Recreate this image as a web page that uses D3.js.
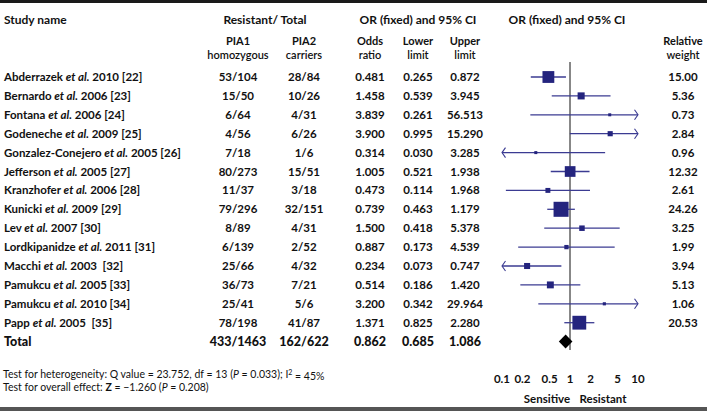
<!DOCTYPE html>
<html><head><meta charset="utf-8">
<script src="https://cdn.jsdelivr.net/npm/d3@7/dist/d3.min.js"></script>
<style>
body{margin:0;background:#fff;}
svg{display:block;font-family:Lato,"Open Sans",sans-serif;}
text{white-space:pre;}
</style></head>
<body><svg id="c" width="707" height="411"></svg>
<script>
const studies = ["Abderrazek et al. 2010 [22]","Bernardo et al. 2006 [23]","Fontana et al. 2006 [24]","Godeneche et al. 2009 [25]","Gonzalez-Conejero et al. 2005 [26]","Jefferson et al. 2005 [27]","Kranzhofer et al. 2006 [28]","Kunicki et al. 2009 [29]","Lev et al. 2007 [30]","Lordkipanidze et al. 2011 [31]","Macchi et al. 2003  [32]","Pamukcu et al. 2005 [33]","Pamukcu et al. 2010 [34]","Papp et al. 2005  [35]"];
const pia1 = ["53/104","15/50","6/64","4/56","7/18","80/273","11/37","79/296","8/89","6/139","25/66","36/73","25/41","78/198"];
const pia2 = ["28/84","10/26","4/31","6/26","1/6","15/51","3/18","32/151","4/31","2/52","4/32","7/21","5/6","41/87"];
const oddsRatio = [0.481,1.458,3.839,3.900,0.314,1.005,0.473,0.739,1.500,0.887,0.234,0.514,3.200,1.371];
const lowerLimit = [0.265,0.539,0.261,0.995,0.030,0.521,0.114,0.463,0.418,0.173,0.073,0.186,0.342,0.825];
const upperLimit = [0.872,3.945,56.513,15.290,3.285,1.938,1.968,1.179,5.378,4.539,0.747,1.420,29.964,2.280];
const relWeight = [15.00,5.36,0.73,2.84,0.96,12.32,2.61,24.26,3.25,1.99,3.94,5.13,1.06,20.53];
const total = {name:"Total", pia1:"433/1463", pia2:"162/622", or:0.862, lo:0.685, hi:1.086};
const axisTicks = [0.1,0.2,0.5,1,2,5,10];
const tickLabels = ["0.1","0.2","0.5","1","2","5","10"];

const svg = d3.select("#c");
const x = d3.scaleLog().domain([0.1,10]).range([502,638]);
const y = d3.scaleLinear().domain([0,14]).range([77,341.6]);
const f3 = d3.format(".3f"), f2 = d3.format(".2f");
const ink = "#111";
const navy = "#24247e";
const lineCol = "#3b3b92";

// frame lines
svg.append("rect").attr("x",0).attr("y",0).attr("width",707).attr("height",3).attr("fill","#1a1a1a");
svg.append("rect").attr("x",0).attr("y",407).attr("width",707).attr("height",4).attr("fill","#555");

const cols = {pia1:238, pia2:304, or:370, lo:418, hi:465, w:683};

function txt(xp, yp, s, opts={}){
  return svg.append("text").attr("x",xp).attr("y",yp).attr("dy","0.35em")
    .attr("text-anchor",opts.anchor||"middle")
    .attr("font-size",opts.size||11.5)
    .attr("font-weight",opts.weight||"bold")
    .attr("fill",ink).text(s);
}
// headers
txt(4,20,"Study name",{anchor:"start",size:12});
txt(265,20,"Resistant/ Total",{size:12});
txt(418,20,"OR (fixed) and 95% CI",{size:12});
txt(567,20,"OR (fixed) and 95% CI",{size:12});
const h1 = 41.5, h2 = 55;
txt(cols.pia1,h1,"PIA1",{size:11}); txt(cols.pia1,h2,"homozygous",{weight:"600",size:11});
txt(cols.pia2,h1,"PIA2",{size:11}); txt(cols.pia2,h2,"carriers",{weight:"600",size:11});
txt(cols.or,h1,"Odds",{size:11}); txt(cols.or,h2,"ratio",{weight:"600",size:11});
txt(cols.lo,h1,"Lower",{size:11}); txt(cols.lo,h2,"limit",{weight:"600",size:11});
txt(cols.hi,h1,"Upper",{size:11}); txt(cols.hi,h2,"limit",{weight:"600",size:11});
txt(cols.w,h1,"Relative",{size:11}); txt(cols.w,h2,"weight",{weight:"600",size:11});

// study rows
studies.forEach((s,i)=>{
  const t = svg.append("text").attr("x",4).attr("y",y(i)).attr("dy","0.35em")
    .attr("font-size",11.5).attr("font-weight","bold").attr("fill",ink);
  const parts = s.split("et al.");
  t.append("tspan").text(parts[0]);
  t.append("tspan").attr("font-style","italic").text("et al.");
  t.append("tspan").text(parts[1]);
  txt(cols.pia1,y(i),pia1[i]);
  txt(cols.pia2,y(i),pia2[i]);
  txt(cols.or,y(i),f3(oddsRatio[i]));
  txt(cols.lo,y(i),f3(lowerLimit[i]));
  txt(cols.hi,y(i),f3(upperLimit[i]));
  txt(cols.w,y(i),f2(relWeight[i]));
});
// total row
txt(4,y(14),total.name,{anchor:"start",size:12.5,weight:"900"});
txt(cols.pia1,y(14),total.pia1,{size:12.5,weight:"900"});
txt(cols.pia2,y(14),total.pia2,{size:12.5,weight:"900"});
txt(cols.or,y(14),f3(total.or),{size:12.5,weight:"900"});
txt(cols.lo,y(14),f3(total.lo),{size:12.5,weight:"900"});
txt(cols.hi,y(14),f3(total.hi),{size:12.5,weight:"900"});

// vertical null line
svg.append("line").attr("x1",x(1)).attr("x2",x(1)).attr("y1",62).attr("y2",350)
  .attr("stroke","#111").attr("stroke-width",1);

// CI lines, arrows, squares
const g = svg.append("g");
oddsRatio.forEach((o,i)=>{
  const yy = y(i);
  const lo = Math.max(lowerLimit[i],0.1), hi = Math.min(upperLimit[i],10);
  g.append("line").attr("x1",x(lo)).attr("x2",x(hi)).attr("y1",yy).attr("y2",yy)
    .attr("stroke",lineCol).attr("stroke-width",1.3);
  if(upperLimit[i]>10){
    const xe = x(10);
    g.append("path").attr("d",`M${xe-3.5},${yy-5}L${xe},${yy}L${xe-3.5},${yy+5}`)
      .attr("fill","none").attr("stroke",lineCol).attr("stroke-width",1.1);
  }
  if(lowerLimit[i]<0.1){
    const xs = x(0.1);
    g.append("path").attr("d",`M${xs+3.5},${yy-5}L${xs},${yy}L${xs+3.5},${yy+5}`)
      .attr("fill","none").attr("stroke",lineCol).attr("stroke-width",1.1);
  }
  const side = Math.max(3, 3.05*Math.sqrt(relWeight[i]));
  g.append("rect").attr("x",x(o)-side/2).attr("y",yy-side/2).attr("width",side).attr("height",side)
    .attr("fill",navy);
});
// diamond
const yt = y(14);
svg.append("path").attr("d",`M${x(total.lo)},${yt}L${x(total.or)},${yt-7}L${x(total.hi)},${yt}L${x(total.or)},${yt+7}Z`)
  .attr("fill","#000");

// axis labels
axisTicks.forEach((v,i)=>{
  txt(x(v),379,tickLabels[i],{size:11.5});
});
txt(547,399,"Sensitive",{size:11.5});
txt(603,399,"Resistant",{size:11.5});

// footer
const fs = 10.5;
const f1 = svg.append("text").attr("x",3).attr("y",374.5).attr("dy","0.35em").attr("font-size",fs).attr("fill",ink);
f1.append("tspan").text("Test for heterogeneity: Q value = 23.752, df = 13 (");
f1.append("tspan").attr("font-style","italic").text("P");
f1.append("tspan").text(" = 0.033); I");
f1.append("tspan").attr("font-size",7).attr("dy","-0.45em").text("2");
f1.append("tspan").attr("dy","0.45em").text(" = 45%");
const f2t = svg.append("text").attr("x",3).attr("y",387).attr("dy","0.35em").attr("font-size",fs).attr("fill",ink);
f2t.append("tspan").text("Test for overall effect: ");
f2t.append("tspan").attr("font-weight","bold").text("Z");
f2t.append("tspan").text(" = \u22121.260 (");
f2t.append("tspan").attr("font-style","italic").text("P");
f2t.append("tspan").text(" = 0.208)");
</script></body></html>
